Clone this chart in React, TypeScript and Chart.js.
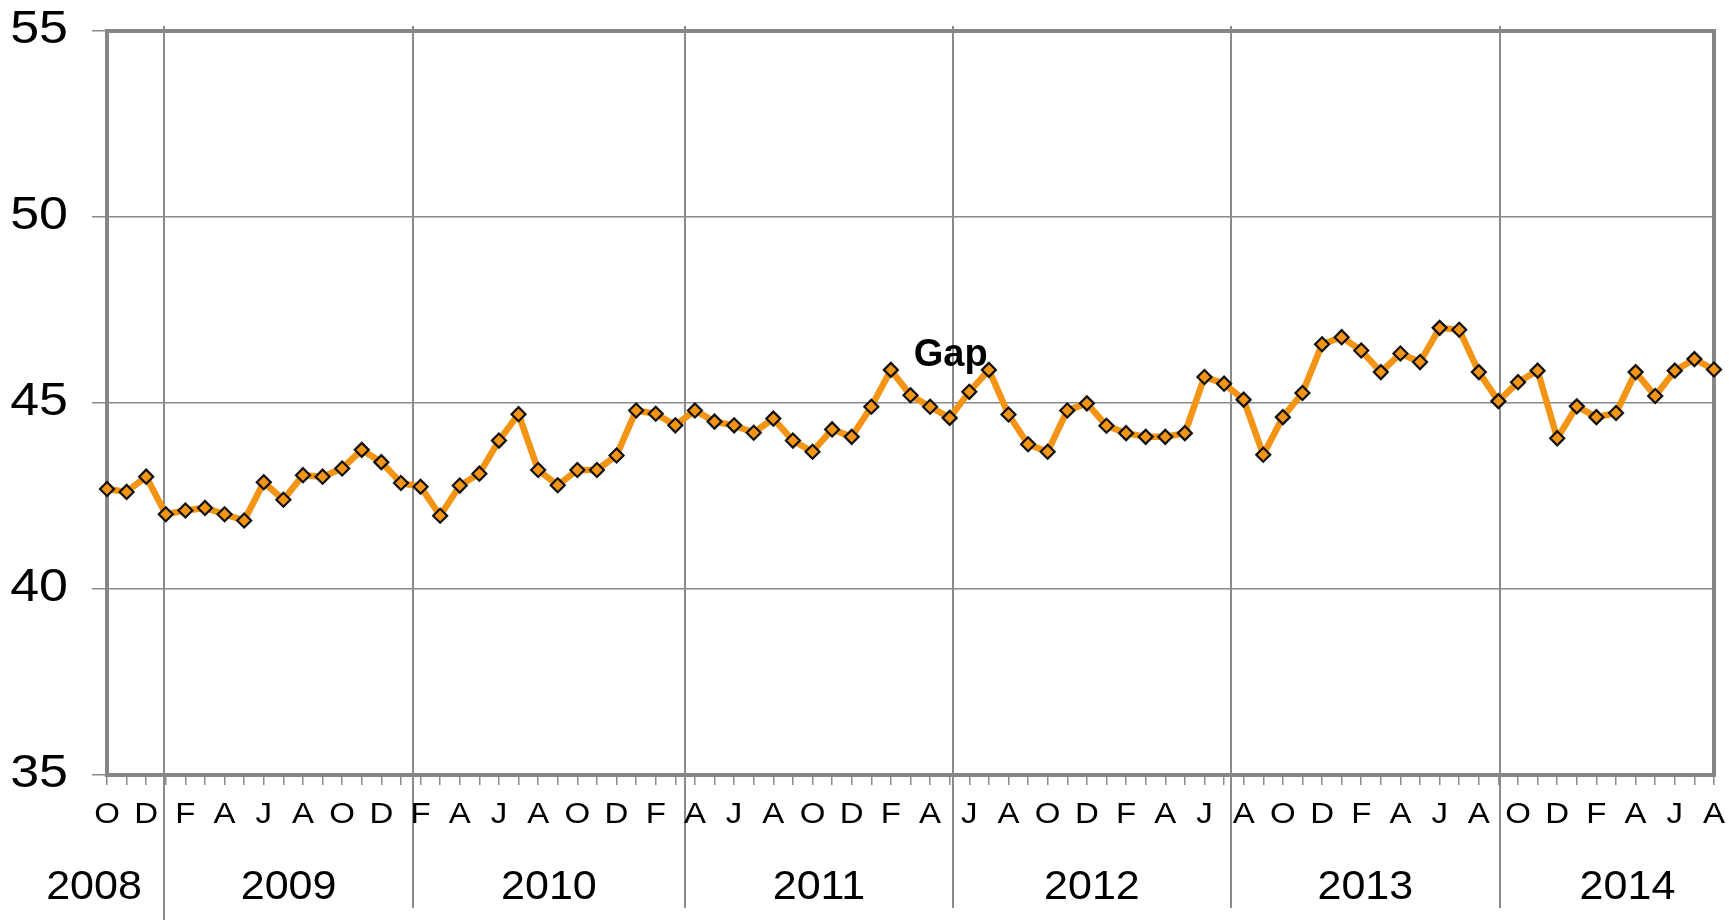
import React, { useEffect, useRef } from 'react';
import { Chart, registerables } from 'chart.js';

Chart.register(...registerables);

// Monthly categories, October 2008 onward (labels shown every second month)
const months = [
  'O', 'N', 'D',
  'J', 'F', 'M', 'A', 'M', 'J', 'J', 'A', 'S', 'O', 'N', 'D',
  'J', 'F', 'M', 'A', 'M', 'J', 'J', 'A', 'S', 'O', 'N', 'D',
  'J', 'F', 'M', 'A', 'M', 'J', 'J', 'A', 'S', 'O', 'N', 'D',
  'J', 'F', 'M', 'A', 'M', 'J', 'J', 'A', 'S', 'O', 'N', 'D',
  'J', 'F', 'M', 'A', 'M', 'J', 'J', 'A', 'S', 'O', 'N', 'D',
  'J', 'F', 'M', 'A', 'M', 'J', 'J', 'A', 'S', 'O', 'N', 'D',
  'J', 'F', 'M', 'A', 'M', 'J', 'J', 'A',
];

const values = [
  42.69, 42.61, 43.02, 42.01, 42.11, 42.18, 42.01, 41.84, 42.87, 42.4,
  43.06, 43.02, 43.24, 43.74, 43.41, 42.85, 42.75, 41.97, 42.78, 43.1,
  43.99, 44.7, 43.2, 42.79, 43.2, 43.2, 43.59, 44.8, 44.71, 44.4,
  44.8, 44.5, 44.4, 44.2, 44.58, 43.99, 43.69, 44.29, 44.09, 44.9,
  45.89, 45.21, 44.9, 44.6, 45.3, 45.89, 44.69, 43.89, 43.69, 44.8,
  44.99, 44.39, 44.19, 44.09, 44.09, 44.19, 45.7, 45.52, 45.09, 43.61,
  44.62, 45.27, 46.58, 46.77, 46.41, 45.83, 46.33, 46.1, 47.02, 46.97,
  45.83, 45.05, 45.56, 45.87, 44.05, 44.91, 44.62, 44.73, 45.83, 45.19,
  45.87, 46.18, 45.9,
];

// Year groups on the category axis (boundaries in category-index units)
const yearLabels = ['2008', '2009', '2010', '2011', '2012', '2013', '2014'];
const yearBounds = [-4.25, 2.93, 15.6, 29.5, 43.16, 57.35, 71.07, 84.1];

const yMin = 35;
const yMax = 55;
const yStep = 5;

const annotationText = 'Gap';
const annotationIndex = 43.05;
const annotationValue = 46.0;

const FONT = '"Liberation Sans", Arial, Helvetica, sans-serif';
const GRID = '#8a8a8a';
const BORDER = '#868686';
const ORANGE = '#F39414';

function stretchedText(ctx: any, text: string, x: number, y: number, sx: number, align: string) {
  ctx.save();
  ctx.translate(x, y);
  ctx.scale(sx, 1);
  ctx.textAlign = align;
  ctx.textBaseline = 'middle';
  ctx.fillText(text, 0, 0);
  ctx.restore();
}

const overlayPlugin = {
  id: 'overlay',
  beforeDatasetsDraw(chart: any) {
    const { ctx, chartArea: a, scales } = chart;
    const x = scales.x;
    ctx.save();
    ctx.strokeStyle = GRID;
    ctx.lineWidth = 2;
    for (let i = 1; i < yearBounds.length - 1; i++) {
      const px = Math.round(x.getPixelForValue(yearBounds[i]));
      ctx.beginPath();
      ctx.moveTo(px, a.top - 5);
      ctx.lineTo(px, i === 1 ? chart.height : a.bottom + 133);
      ctx.stroke();
    }
    ctx.lineWidth = 4;
    ctx.strokeStyle = BORDER;
    ctx.strokeRect(a.left, a.top, a.right - a.left, a.bottom - a.top);
    ctx.restore();
  },
  afterDatasetsDraw(chart: any) {
    const { ctx, chartArea: a, scales } = chart;
    const x = scales.x;
    const y = scales.y;
    ctx.save();
    ctx.fillStyle = '#000';

    // y-axis labels
    ctx.font = `46px ${FONT}`;
    for (const t of y.ticks) {
      stretchedText(ctx, String(t.value), a.left - 39, y.getPixelForValue(t.value) - 1, 1.13, 'right');
    }

    // month labels (every second month)
    ctx.font = `30px ${FONT}`;
    for (let i = 0; i < months.length; i += 2) {
      stretchedText(ctx, months[i], x.getPixelForValue(i), a.bottom + 40, 1.1, 'center');
    }

    // year labels
    ctx.font = `41px ${FONT}`;
    for (let i = 0; i < yearLabels.length; i++) {
      const c = (yearBounds[i] + yearBounds[i + 1]) / 2;
      stretchedText(ctx, yearLabels[i], x.getPixelForValue(c), a.bottom + 113, 1.05, 'center');
    }

    // annotation
    ctx.font = `bold 38px ${FONT}`;
    ctx.textAlign = 'center';
    ctx.textBaseline = 'alphabetic';
    ctx.fillText(annotationText, x.getPixelForValue(annotationIndex), y.getPixelForValue(annotationValue));
    ctx.restore();
  },
};

export default function App() {
  const ref = useRef<HTMLCanvasElement | null>(null);

  useEffect(() => {
    if (!ref.current) return;
    const chart = new Chart(ref.current, {
      type: 'line',
      data: {
        labels: months,
        datasets: [
          {
            data: values,
            borderColor: ORANGE,
            borderWidth: 6.5,
            backgroundColor: ORANGE,
            pointStyle: 'rectRot',
            pointRadius: 7,
            pointBorderWidth: 2.2,
            pointBorderColor: '#111',
            pointBackgroundColor: ORANGE,
            tension: 0,
            fill: false,
          },
        ],
      },
      options: {
        responsive: false,
        animation: false,
        devicePixelRatio: 1,
        layout: { autoPadding: false, padding: { top: 31, right: 15, left: 0, bottom: 0 } },
        plugins: {
          legend: { display: false },
          tooltip: { enabled: false },
          title: { display: false },
        },
        scales: {
          x: {
            type: 'category',
            offset: false,
            border: { display: false },
            grid: {
              display: true,
              drawOnChartArea: false,
              drawTicks: true,
              tickLength: 10,
              color: GRID,
              lineWidth: 1.5,
            },
            ticks: { display: false, autoSkip: false, maxRotation: 0 },
            afterFit: (s: any) => {
              s.height = 145;
              s.paddingLeft = 0;
              s.paddingRight = 0;
              s.paddingTop = 0;
              s.paddingBottom = 0;
            },
          },
          y: {
            min: yMin,
            max: yMax,
            border: { display: false },
            grid: {
              color: GRID,
              lineWidth: 1.5,
              drawTicks: true,
              tickLength: 15,
            },
            ticks: { display: false, stepSize: yStep },
            afterFit: (s: any) => {
              s.width = 107;
              s.paddingLeft = 0;
              s.paddingRight = 0;
              s.paddingTop = 0;
              s.paddingBottom = 0;
            },
          },
        },
      },
      plugins: [overlayPlugin],
    });
    return () => chart.destroy();
  }, []);

  return (
    <div style={{ position: 'fixed', left: 0, top: 0, width: 1729, height: 920, background: '#fff' }}>
      <canvas ref={ref} width={1729} height={920} />
    </div>
  );
}
